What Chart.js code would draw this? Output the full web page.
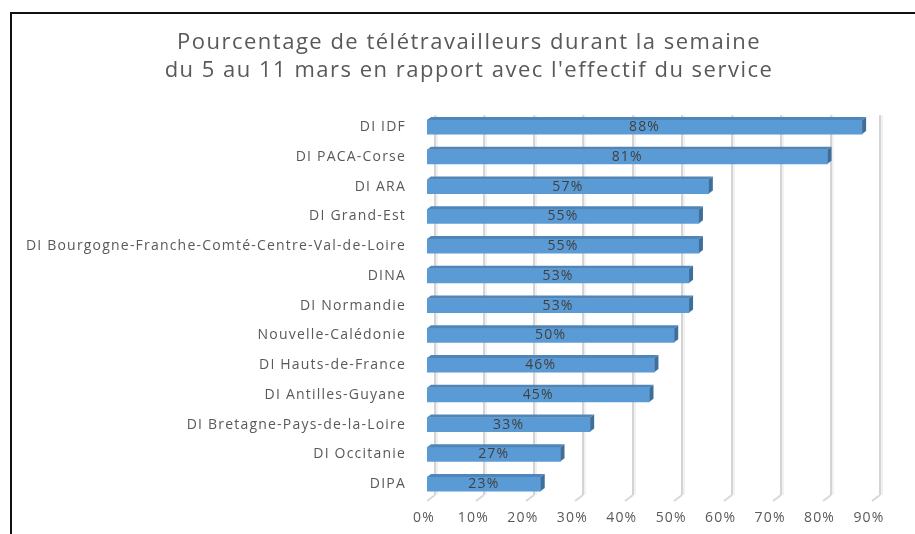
<!DOCTYPE html>
<html>
<head>
<meta charset="utf-8">
<script src="https://cdn.jsdelivr.net/npm/chart.js@4/dist/chart.umd.min.js"></script>
<style>
  html, body { margin: 0; padding: 0; background: #fff; }
  #wrap { position: relative; width: 915px; height: 534px; overflow: hidden; }
  #frame { position: absolute; left: 10px; top: 12px; width: 920px; height: 540px;
           border-left: 2px solid #111; border-top: 2px solid #111; box-sizing: border-box; }
  canvas { position: absolute; left: 0; top: 0; }
</style>
</head>
<body>
<div id="wrap">
  <div id="frame"></div>
  <canvas id="c" width="915" height="534"></canvas>
</div>
<script>
const titleLines = ["Pourcentage de télétravailleurs durant la semaine",
                    "du 5 au 11 mars en rapport avec l'effectif du service"];
const categories = ["DI IDF", "DI PACA-Corse", "DI ARA", "DI Grand-Est",
  "DI Bourgogne-Franche-Comté-Centre-Val-de-Loire", "DINA", "DI Normandie",
  "Nouvelle-Calédonie", "DI Hauts-de-France", "DI Antilles-Guyane",
  "DI Bretagne-Pays-de-la-Loire", "DI Occitanie", "DIPA"];
const values = [88, 81, 57, 55, 55, 53, 53, 50, 46, 45, 33, 27, 23];
const tickValues = [0, 10, 20, 30, 40, 50, 60, 70, 80, 90];

const FONT = "'Open Sans', 'Liberation Sans', sans-serif";
const PAD_L = 66, PAD_R = 43, AREA_LEFT = 427;

const canvas = document.getElementById('c');
const c2d = canvas.getContext('2d');
const origFill = c2d.fillText.bind(c2d);
c2d.fillText = function (t, x, y, m) {
  this.letterSpacing = /2\dpx/.test(this.font) ? '1.5px' : '1.2px';
  const r = m === undefined ? origFill(t, x, y) : origFill(t, x, y, m);
  this.letterSpacing = '0px';
  return r;
};

const noLabelClip = {
  id: 'noLabelClip',
  afterUpdate(chart) {
    const y = chart.scales.y;
    if (y) y._computeLabelArea = function () { return undefined; };
  }
};

const grid3d = {
  id: 'grid3d',
  beforeDatasetsDraw(chart) {
    const { ctx, chartArea: a, scales: { x } } = chart;
    ctx.save();
    tickValues.forEach(v => {
      const gx = Math.round(x.getPixelForValue(v)) + 8;
      const top = a.top + 3, bot = a.bottom - 4;
      ctx.strokeStyle = '#d4d4d4'; ctx.lineWidth = 2;
      ctx.beginPath(); ctx.moveTo(gx, top); ctx.lineTo(gx, bot); ctx.stroke();
      ctx.strokeStyle = '#ececec'; ctx.lineWidth = 1.5;
      ctx.beginPath(); ctx.moveTo(gx + 2, top); ctx.lineTo(gx + 2, bot); ctx.stroke();
      ctx.strokeStyle = '#d8d8d8'; ctx.lineWidth = 2;
      ctx.beginPath(); ctx.moveTo(gx, bot); ctx.lineTo(gx - 8, bot + 6); ctx.stroke();
    });
    ctx.restore();
  }
};

const bars3d = {
  id: 'bars3d',
  afterDatasetsDraw(chart) {
    const { ctx } = chart;
    const meta = chart.getDatasetMeta(0);
    ctx.save();
    meta.data.forEach((el, i) => {
      const p = el.getProps(['x', 'y', 'base', 'height'], true);
      const t = p.y - p.height / 2, b = p.y + p.height / 2;
      const dx = 4, dy = 3;
      ctx.fillStyle = '#4f86ba';
      ctx.beginPath();
      ctx.moveTo(p.base, t); ctx.lineTo(p.x, t); ctx.lineTo(p.x + dx, t - dy); ctx.lineTo(p.base + dx, t - dy);
      ctx.closePath(); ctx.fill();
      ctx.fillStyle = '#3f6e9a';
      ctx.beginPath();
      ctx.moveTo(p.x, t); ctx.lineTo(p.x + dx, t - dy); ctx.lineTo(p.x + dx, b - dy); ctx.lineTo(p.x, b);
      ctx.closePath(); ctx.fill();
      ctx.fillStyle = '#404040';
      ctx.font = "14px " + FONT;
      ctx.textAlign = 'center'; ctx.textBaseline = 'middle';
      ctx.fillText(values[i] + '%', (p.base + p.x) / 2, p.y);
    });
    ctx.restore();
  }
};

new Chart(canvas, {
  type: 'bar',
  data: {
    labels: categories,
    datasets: [{
      data: values,
      backgroundColor: '#5b9bd5',
      borderWidth: 0,
      barThickness: 14
    }]
  },
  options: {
    indexAxis: 'y',
    responsive: false,
    animation: false,
    layout: { padding: { left: PAD_L, right: PAD_R, top: 0, bottom: 0 } },
    plugins: {
      legend: { display: false },
      tooltip: { enabled: false },
      title: {
        display: true,
        text: titleLines,
        color: '#595959',
        font: { family: FONT, size: 22, weight: 'normal', lineHeight: 1.3 },
        padding: { top: 28, bottom: 27 }
      }
    },
    scales: {
      x: {
        min: 0, max: 90,
        grid: { display: false, drawTicks: false },
        border: { display: false },
        afterBuildTicks(s) { s.ticks = tickValues.map(v => ({ value: v })); },
        afterFit(s) { s.height = 35; },
        ticks: {
          color: '#595959',
          font: { family: FONT, size: 14 },
          padding: 11,
          labelOffset: -3,
          callback: v => v + '%'
        }
      },
      y: {
        grid: { display: false, drawTicks: false },
        border: { display: false },
        afterFit(s) { s.width = AREA_LEFT - PAD_L; },
        ticks: {
          color: '#595959',
          font: { family: FONT, size: 14 },
          padding: 21
        }
      }
    }
  },
  plugins: [noLabelClip, grid3d, bars3d]
});
</script>
</body>
</html>
